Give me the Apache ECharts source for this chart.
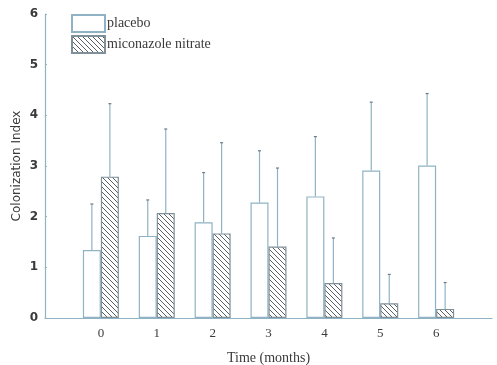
<!DOCTYPE html>
<html>
<head>
<meta charset="utf-8">
<script src="https://cdn.jsdelivr.net/npm/echarts@6/dist/echarts.min.js"></script>
<style>
  html, body { margin: 0; padding: 0; background: #fff; }
  #chart { width: 497px; height: 365px; }
</style>
</head>
<body>
<div id="chart"></div>
<script>
// Time points (months)
const months = ['0', '1', '2', '3', '4', '5', '6'];
// Mean colonization index per group
const placebo = [1.34, 1.62, 1.89, 2.28, 2.40, 2.91, 3.01];
const miconazole = [2.79, 2.07, 1.67, 1.41, 0.69, 0.29, 0.18];
// Upper end of each error bar (mean + SD)
const placeboUpper = [2.25, 2.33, 2.87, 3.30, 3.58, 4.26, 4.43];
const miconazoleUpper = [4.23, 3.73, 3.46, 2.96, 1.58, 0.86, 0.70];
const yTicks = [0, 1, 2, 3, 4, 5, 6];

const lineColor = '#8fb3c4';
const barWidth = 18;

// Diagonal hatching tile for the treated group
function hatchPattern() {
  const s = 5;
  const c = document.createElement('canvas');
  c.width = s; c.height = s;
  const g = c.getContext('2d');
  g.fillStyle = '#ffffff';
  g.fillRect(0, 0, s, s);
  g.strokeStyle = '#5a5f63';
  g.lineWidth = 1;
  g.beginPath();
  g.moveTo(-1, -1); g.lineTo(s + 1, s + 1);
  g.moveTo(-1, s - 1); g.lineTo(1, s + 1);
  g.moveTo(s - 1, -1); g.lineTo(s + 1, 1);
  g.stroke();
  return c;
}

// Pad with empty slots so the axis runs one step past each end
const axisCats = [''].concat(months, ['']);
const pad = arr => ['-'].concat(arr, ['-']);

function errorSeries(upper, means, offset) {
  const data = means.map((m, i) => [i + 1, m, upper[i]]);
  return {
    type: 'custom',
    silent: true,
    z: 1,
    data: data,
    renderItem: function (params, api) {
      const base = api.coord([api.value(0), api.value(1)]);
      const top = api.coord([api.value(0), api.value(2)]);
      const x = base[0] + offset;
      return {
        type: 'group',
        children: [
          { type: 'line', shape: { x1: x, y1: base[1], x2: x, y2: top[1] },
            style: { stroke: lineColor, lineWidth: 1.2 } },
          { type: 'line', shape: { x1: x - 1.5, y1: top[1], x2: x + 1.5, y2: top[1] },
            style: { stroke: '#6d7c84', lineWidth: 1.2 } }
        ]
      };
    }
  };
}

const chart = echarts.init(document.getElementById('chart'), null, { renderer: 'canvas' });
chart.setOption({
  animation: false,
  backgroundColor: '#ffffff',
  grid: { left: 45, right: 5, top: 14, bottom: 47, outerBoundsMode: 'none', containLabel: false },
  legend: {
    orient: 'vertical',
    left: 71,
    top: 14,
    padding: 0,
    itemWidth: 33,
    itemHeight: 17,
    itemGap: 2,
    icon: 'rect',
    textStyle: { fontFamily: 'Liberation Serif', fontSize: 14, color: '#3a3a3a', padding: [0, 0, 0, -3] },
    data: ['placebo', 'miconazole nitrate']
  },
  xAxis: {
    type: 'category',
    data: axisCats,
    boundaryGap: false,
    name: 'Time (months)',
    nameLocation: 'middle',
    nameGap: 33,
    nameMoveOverlap: false,
    nameTextStyle: { fontFamily: 'Liberation Serif', fontSize: 14, color: '#3a3a3a' },
    axisLine: { lineStyle: { color: lineColor, width: 1.2 } },
    axisTick: { show: false },
    axisLabel: { fontFamily: 'Liberation Serif', fontSize: 13, color: '#3a3a3a', margin: 9, interval: 0 },
    splitLine: { show: false }
  },
  yAxis: {
    type: 'value',
    min: yTicks[0],
    max: yTicks[yTicks.length - 1],
    interval: 1,
    name: 'Colonization Index',
    nameLocation: 'middle',
    nameGap: 22,
    nameMoveOverlap: false,
    nameTextStyle: { fontFamily: 'DejaVu Sans', fontSize: 12, color: '#3a3a3a' },
    axisLine: { show: true, lineStyle: { color: lineColor, width: 1.2 } },
    axisTick: { show: true, inside: true, length: 2, lineStyle: { color: lineColor } },
    axisLabel: { fontFamily: 'DejaVu Sans', fontWeight: 'bold', fontSize: 12, color: '#3a3a3a', margin: 7 },
    splitLine: { show: false }
  },
  series: [
    {
      name: 'placebo',
      type: 'bar',
      data: pad(placebo),
      barWidth: barWidth,
      barGap: '0%',
      z: 2,
      itemStyle: { color: '#ffffff', borderColor: lineColor, borderWidth: 1.2 }
    },
    {
      name: 'miconazole nitrate',
      type: 'bar',
      data: pad(miconazole),
      barWidth: barWidth,
      barGap: '0%',
      z: 2,
      itemStyle: {
        color: { image: hatchPattern(), repeat: 'repeat' },
        borderColor: '#7f9099',
        borderWidth: 1.2
      }
    },
    errorSeries(placeboUpper, placebo, -barWidth / 2),
    errorSeries(miconazoleUpper, miconazole, barWidth / 2)
  ]
});
</script>
</body>
</html>
